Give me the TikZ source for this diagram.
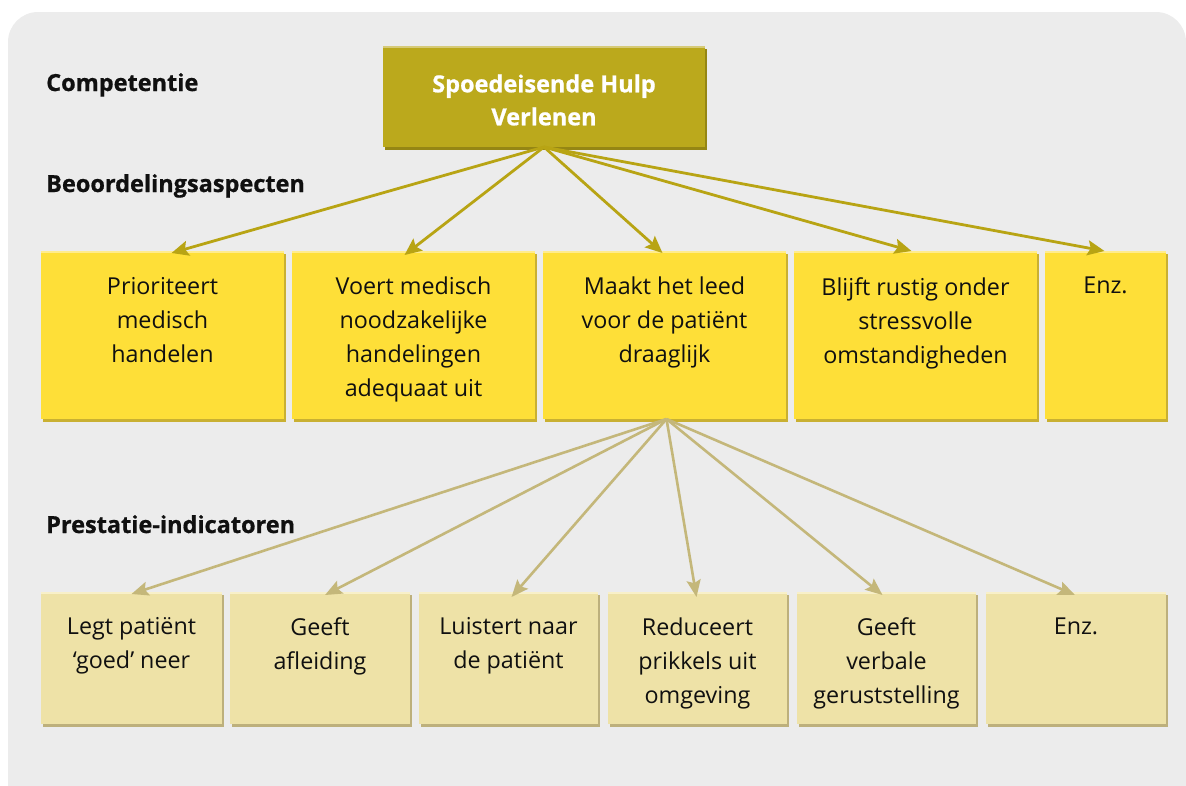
\documentclass[tikz,border=0pt]{standalone}
\usepackage{fontspec}
\setmainfont{Open Sans}
\newfontfamily\heavyfont{Open Sans}[BoldFeatures={FakeBold=0.8}]
\usetikzlibrary{arrows.meta}

\definecolor{bgcol}{HTML}{ECECEC}
\definecolor{compfill}{HTML}{BBA91C}
\definecolor{compshade}{HTML}{958614}
\definecolor{complight}{HTML}{D6CA78}
\definecolor{aspfill}{HTML}{FEDF38}
\definecolor{aspshade}{HTML}{C9B032}
\definecolor{asplight}{HTML}{FFEC8C}
\definecolor{indfill}{HTML}{EEE2A7}
\definecolor{indshade}{HTML}{BDB07C}
\definecolor{indlight}{HTML}{F8F0C9}
\definecolor{arrowA}{HTML}{B8A414}
\definecolor{arrowB}{HTML}{C4B77A}
\definecolor{txtcol}{HTML}{101010}

\tikzset{
  panel/.style={inner sep=0pt, outer sep=0pt, anchor=north west},
  bevelbox/.style n args={3}{
    panel, fill=#1,
    preaction={fill=#2, transform canvas={xshift=2pt, yshift=-3pt}},
    path picture={\draw[#3, line width=3pt]
      (path picture bounding box.north west) -- (path picture bounding box.north east);}
  },
  compbox/.style={bevelbox={compfill}{compshade}{complight}},
  aspbox/.style={bevelbox={aspfill}{aspshade}{asplight}},
  indbox/.style={bevelbox={indfill}{indshade}{indlight}},
  boxtext/.style={anchor=north, inner sep=0pt, align=center, text=txtcol,
    font=\fontsize{23.3}{34}\selectfont},
  heading/.style={anchor=base west, inner sep=0pt, text=txtcol,
    font=\heavyfont\fontsize{23.5}{28}\selectfont\bfseries},
  linkA/.style={draw=arrowA, line width=2.8pt,
    -{Stealth[length=17pt, width=15pt, inset=3pt]}},
  linkB/.style={draw=arrowB, line width=2.6pt,
    -{Stealth[length=17pt, width=14pt, inset=3pt]}},
}

\begin{document}
\begin{tikzpicture}[x=1pt, y=-1pt]
  \useasboundingbox (0,0) rectangle (1186,785);

  % grey backdrop panel with rounded top corners
  \fill[bgcol, rounded corners=30pt] (8,12) rectangle (1186,900);

  % row headings
  \node[heading] (hcomp) at (46,91) {Competentie};
  \node[heading] (hasp) at (46,192) {Beoordelingsaspecten};
  \node[heading] (hind) at (46,533) {Prestatie-indicatoren};

  % competence
  \node[compbox, minimum width=322pt, minimum height=101pt] (comp) at (383,46) {};
  \node[align=center, inner sep=0pt, text=white,
    font=\heavyfont\fontsize{23.5}{33}\selectfont\bfseries] (comptext) at (544,100)
    {Spoedeisende Hulp\\Verlenen};

  % assessment aspects
  \node[aspbox, minimum width=243pt, minimum height=168pt] (a1) at (41,251) {};
  \node[aspbox, minimum width=243pt, minimum height=168pt] (a2) at (292,251) {};
  \node[aspbox, minimum width=243pt, minimum height=168pt] (a3) at (543,251) {};
  \node[aspbox, minimum width=243pt, minimum height=168pt] (a4) at (794,251) {};
  \node[aspbox, minimum width=121pt, minimum height=168pt] (a5) at (1045,251) {};

  \node[boxtext] (t1) at (162.5,277) {Prioriteert\\medisch\\handelen};
  \node[boxtext] (t2) at (413.5,277) {Voert medisch\\noodzakelijke\\handelingen\\adequaat uit};
  \node[boxtext] (t3) at (664.5,277) {Maakt het leed\\voor de patiënt\\draaglijk};
  \node[boxtext] (t4) at (915.5,277) {Blijft rustig onder\\stressvolle\\omstandigheden};
  \node[boxtext] (t5) at (1105.5,277) {Enz.};

  % performance indicators
  \node[indbox, minimum width=181pt, minimum height=132pt] (i1) at (41,592) {};
  \node[indbox, minimum width=180pt, minimum height=132pt] (i2) at (230,592) {};
  \node[indbox, minimum width=179pt, minimum height=132pt] (i3) at (419,592) {};
  \node[indbox, minimum width=179pt, minimum height=132pt] (i4) at (608,592) {};
  \node[indbox, minimum width=179pt, minimum height=132pt] (i5) at (797,592) {};
  \node[indbox, minimum width=180pt, minimum height=132pt] (i6) at (986,592) {};

  \node[boxtext] (u1) at (131.5,617.5) {Legt patiënt\\‘goed’ neer};
  \node[boxtext] (u2) at (320,617.5) {Geeft\\afleiding};
  \node[boxtext] (u3) at (508.5,617.5) {Luistert naar\\de patiënt};
  \node[boxtext] (u4) at (697.5,617.5) {Reduceert\\prikkels uit\\omgeving};
  \node[boxtext] (u5) at (886.5,617.5) {Geeft\\verbale\\geruststelling};
  \node[boxtext] (u6) at (1076,617.5) {Enz.};

  % competence -> aspects
  \draw[linkA] (comp.south) -- ([xshift=9pt, yshift=-2pt]a1.north);
  \draw[linkA] (comp.south) -- ([xshift=-9pt, yshift=-4pt]a2.north);
  \draw[linkA] (comp.south) -- ([xshift=-2pt, yshift=-2pt]a3.north);
  \draw[linkA] (comp.south) -- ([xshift=-4pt]a4.north);
  \draw[linkA] (comp.south) -- ([xshift=-1pt]a5.north);

  % aspect -> indicators
  \draw[linkB] ([xshift=2pt]a3.south) -- ([yshift=-2pt]i1.north);
  \draw[linkB] ([xshift=2pt]a3.south) -- ([xshift=5pt, yshift=-3pt]i2.north);
  \draw[linkB] ([xshift=2pt]a3.south) -- ([xshift=3pt, yshift=-5pt]i3.north);
  \draw[linkB] ([xshift=2pt]a3.south) -- ([xshift=-1pt, yshift=-5pt]i4.north);
  \draw[linkB] ([xshift=2pt]a3.south) -- ([xshift=-4pt, yshift=-3pt]i5.north);
  \draw[linkB] ([xshift=2pt]a3.south) -- ([xshift=-1pt, yshift=-3pt]i6.north);
\end{tikzpicture}
\end{document}
